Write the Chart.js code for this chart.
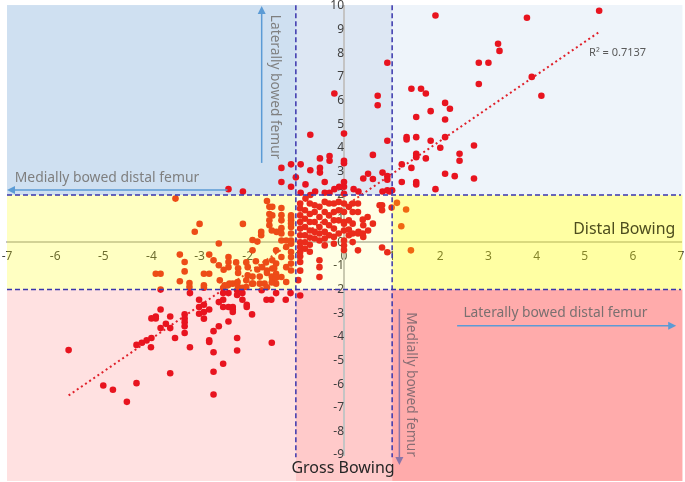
<!DOCTYPE html>
<html>
<head>
<meta charset="utf-8">
<script src="https://cdn.jsdelivr.net/npm/chart.js@4.4.0/dist/chart.umd.min.js"></script>
<style>
  html, body { margin: 0; padding: 0; background: #fff; }
  canvas { display: block; }
</style>
</head>
<body>
<canvas id="bowingChart" width="685" height="482"></canvas>
<script>
// ***** DATA *****
const xRange = [-7, 7];
const yRange = [-9, 10];
const xCuts = [-1, 1];
const yCuts = [-2, 2];

// points above the distal band (y > 2)
const upperPoints = [
  [1.9, 9.6], [3.8, 9.5], [5.3, 9.8], [3.2, 8.4], [3.23, 8.1], [2.8, 7.6], [3.0, 7.6], [0.9, 7.6],
  [2.8, 6.7], [3.9, 7.0], [4.1, 6.2], [1.4, 6.5], [1.6, 6.5], [1.7, 6.3], [0.7, 6.2], [0.7, 5.8],
  [1.8, 5.55], [2.1, 5.9], [2.2, 5.65], [1.5, 5.3], [2.1, 5.2], [0.0, 4.6], [1.3, 4.45], [1.3, 4.35],
  [1.5, 4.45], [2.1, 4.45], [0.9, 4.3], [1.8, 4.3], [2.0, 4.0], [2.7, 4.1], [0.6, 3.7], [1.5, 3.75],
  [1.5, 3.65], [1.5, 3.6], [1.7, 3.55], [2.4, 3.75], [2.4, 3.45], [0.0, 3.45], [0.0, 3.35], [1.2, 3.3],
  [1.4, 3.15], [0.8, 2.95], [0.5, 2.9], [0.4, 2.7], [0.6, 2.68], [0.9, 2.8], [0.9, 2.65], [2.1, 2.9],
  [2.3, 2.8], [2.7, 2.7], [1.2, 2.55], [1.5, 2.55], [1.5, 2.45], [1.9, 2.25], [0.0, 2.55], [0.0, 2.35],
  [0.2, 2.25], [0.3, 2.15], [0.8, 2.15], [0.9, 2.2], [0.95, 2.15], [1.0, 2.2], [0.0, 2.05], [-0.1, 2.35],
  [-0.2, 6.3], [-0.7, 4.55], [-0.5, 3.55], [-0.3, 3.65], [-0.3, 3.45], [-1.3, 3.15], [-1.1, 3.3], [-0.9, 3.3],
  [-0.7, 3.05], [-0.5, 3.15], [-0.5, 2.95], [-1.3, 2.55], [-1.1, 2.35], [-1.0, 2.75], [-0.8, 2.45], [-0.4, 2.55],
  [-0.6, 2.15], [-0.4, 2.1], [-0.3, 2.1], [-0.9, 2.1], [-0.7, 2.0], [-2.4, 2.25], [-2.1, 2.15], [-0.2, 2.25]
];

// points inside the distal band (-2 .. 2)
const bandPoints = [
  [-0.8, 1.85], [-3.5, 1.85], [-1.6, 1.75], [-3.0, 0.78], [-3.1, 0.45], [-2.1, 0.78], [-2.6, -0.05],
  [-1.55, 1.5], [-1.55, 1.2], [-1.55, 0.93], [-1.55, 0.72], [-1.5, 0.5], [-1.4, 0.44], [-1.3, 1.45],
  [-1.3, 1.15], [-1.3, 0.93], [-1.3, 0.6], [-1.3, 0.37], [-1.3, 0.08], [-1.1, 1.14], [-1.1, 0.93],
  [-1.1, 0.65], [-1.1, 0.37], [-1.1, 0.08], [-1.1, 1.05], [-1.1, 0.8], [-1.72, 0.44], [-1.72, 0.3],
  [-1.9, 0.1], [-1.8, 0.03], [-1.2, 0.08], [-1.1, -0.06], [-1.49, 1.5], [-1.49, 1.14],
  [-0.91, 1.64], [-0.91, 1.43], [-0.91, 1.14], [-0.91, 0.86], [-0.91, 0.58], [-0.91, 0.3], [-0.91, 0.0],
  [-0.91, -0.2], [-0.91, -0.41], [-0.91, -0.59], [-0.91, -0.83],
  [-0.81, 1.36], [-0.81, 1.0], [-0.81, 0.65], [-0.81, 0.3], [-0.81, 0.0], [-0.81, -0.27],
  [-0.71, 1.64], [-0.71, 1.2], [-0.71, 0.86], [-0.71, 0.5], [-0.71, 0.2], [-0.71, -0.1], [-0.71, -0.4],
  [-0.61, 1.57], [-0.61, 1.28], [-0.61, 0.86], [-0.61, 0.44], [-0.61, 0.16],
  [-0.51, 1.5], [-0.51, 1.07], [-0.51, 0.65], [-0.51, 0.37], [-0.51, 0.08], [-0.51, -0.76], [-0.51, -1.05], [-0.51, -1.47],
  [-0.4, 1.71], [-0.4, 1.28], [-0.4, 0.86], [-0.4, 0.44], [-0.4, 0.16], [-0.4, -0.13],
  [-0.31, 1.64], [-0.31, 1.14], [-0.31, 0.72], [-0.31, 0.3],
  [-0.21, 1.64], [-0.21, 1.28], [-0.21, 0.93], [-0.21, 0.58], [-0.21, 0.23], [-0.21, -0.06],
  [-0.11, 1.71], [-0.11, 1.36], [-0.11, 0.93], [-0.11, 0.37],
  [0.0, 1.64], [0.0, 1.28], [0.0, 0.86], [0.0, 0.5], [0.0, 0.08], [0.0, -0.14], [0.0, -0.33], [0.0, 0.79],
  [0.1, 1.5], [0.1, 0.93], [0.1, 0.54], [0.1, 0.3],
  [0.18, 1.64], [0.18, 1.28], [0.18, 0.79], [0.18, 0.37], [0.18, 0.01],
  [0.29, 1.64], [0.29, 1.28], [0.29, 0.37], [0.29, -0.34], [0.3, 0.44],
  [0.39, 0.96], [0.39, 0.37], [0.4, 0.72], [0.4, 0.23], [0.49, 1.07], [0.5, 0.5], [0.6, 0.79],
  [0.74, 1.57], [0.79, 1.57], [0.79, 1.36], [0.99, 1.47], [0.79, -0.22], [0.9, -0.42],
  [1.1, 1.67], [1.29, 1.39], [1.19, 0.68], [1.39, -0.34],
  [-1.2, -0.2], [-1.41, -0.34], [-1.3, -0.62], [-1.1, -0.41], [-1.1, -0.62], [-1.1, -0.9], [-1.1, -1.19],
  [-1.2, -1.05], [-1.41, -0.9], [-1.49, -0.76], [-1.49, -1.11], [-1.41, -1.33], [-1.3, -1.47], [-1.49, -1.54],
  [-1.2, -1.68], [-1.41, -1.75], [-0.91, -1.2], [-0.95, -1.6],
  [-3.41, -0.52], [-2.8, -0.52], [-2.71, -0.76], [-2.4, -0.62], [-2.4, -0.83], [-2.4, -1.05], [-2.6, -0.97],
  [-2.5, -1.16], [-2.24, -0.85], [-2.03, -0.85], [-1.83, -0.8], [-1.62, -0.85], [-1.9, -0.34],
  [-2.2, -1.1], [-2.0, -1.05], [-1.8, -1.15], [-1.7, -1.05], [-1.6, -1.2], [-1.45, -1.1],
  [-2.2, -1.3], [-2.0, -1.4], [-1.9, -1.45], [-1.75, -1.45], [-1.6, -1.3], [-1.5, -1.45],
  [-3.91, -1.33], [-3.81, -1.33], [-3.31, -1.23], [-3.31, -0.83], [-3.21, -1.72], [-3.21, -1.89], [-3.41, -1.65],
  [-2.91, -1.33], [-2.8, -1.33], [-2.58, -1.61], [-2.48, -1.82], [-2.38, -1.75], [-2.2, -1.89], [-2.03, -1.61],
  [-2.03, -1.89], [-1.89, -1.75], [-1.75, -1.75], [-1.65, -1.75], [-1.6, -1.9], [-1.5, -1.7], [-1.41, -1.5],
  [-2.91, -1.82], [-2.91, -1.92], [-2.51, -1.92], [-2.41, -1.82], [-2.31, -1.75], [-2.21, -1.68], [-2.11, -1.92],
  [-1.91, -1.75], [-3.81, -2.0]
];

// points below the distal band (y < -2)
const lowerPoints = [
  [-5.72, -4.56], [-5.0, -6.06], [-4.8, -6.24], [-4.51, -6.75], [-4.31, -5.96], [-4.31, -4.34], [-4.2, -4.25],
  [-4.1, -4.15], [-4.0, -4.05], [-4.01, -4.44], [-3.81, -2.84], [-3.91, -3.14], [-3.91, -3.22], [-4.0, -3.22],
  [-3.81, -3.63], [-3.7, -3.45], [-3.61, -3.14], [-3.61, -3.63], [-3.61, -5.54], [-3.51, -4.05], [-3.31, -3.05],
  [-3.31, -3.23], [-3.31, -3.38], [-3.31, -3.55], [-3.31, -3.84], [-3.2, -2.15], [-3.2, -4.44], [-3.01, -2.43],
  [-3.01, -2.74], [-3.01, -3.02], [-2.91, -2.95], [-2.91, -3.23], [-2.91, -2.64], [-2.8, -2.84], [-2.71, -3.76],
  [-2.8, -4.15], [-2.8, -4.22], [-2.71, -4.65], [-2.71, -5.48], [-2.71, -6.44], [-2.6, -3.55], [-2.6, -2.53],
  [-2.51, -2.15], [-2.51, -2.43], [-2.51, -2.74], [-2.51, -5.14], [-2.4, -2.15], [-2.4, -2.74], [-2.4, -3.35],
  [-2.31, -2.74], [-2.31, -2.84], [-2.31, -2.95], [-2.22, -2.03], [-2.22, -2.23], [-2.22, -4.05], [-2.22, -4.58],
  [-2.11, -2.15], [-2.11, -2.43], [-2.02, -2.64], [-2.02, -2.74], [-1.91, -3.05], [-1.71, -2.03], [-1.61, -2.43],
  [-1.51, -2.43], [-1.41, -2.15], [-1.5, -4.25], [-1.21, -2.43], [-1.11, -2.15], [-0.91, -2.25]
];

// linear trend
const trendX = [-5.72, 5.3];
const trendY = [-6.48, 8.9];
const rSquared = '0.7137';


// ***** HELPERS *****
const fontFamily = '"Noto Sans", "Open Sans", sans-serif';

function toXY(list) {
  return list.map(p => ({ x: p[0], y: p[1] }));
}

function fitFont(ctx, text, width) {
  ctx.font = '20px ' + fontFamily;
  let size = 20 * width / ctx.measureText(text).width;
  ctx.font = size.toFixed(1) + 'px ' + fontFamily;
}

function drawLabel(ctx, text, px, py, width, color, align, rotate) {
  ctx.save();
  fitFont(ctx, text, width);
  ctx.fillStyle = color;
  ctx.textBaseline = 'middle';
  ctx.translate(px, py);
  if (rotate) ctx.rotate(Math.PI / 2);
  ctx.textAlign = align;
  ctx.fillText(text, 0, 0);
  ctx.restore();
}

function drawArrow(ctx, x1, y1, x2, y2, color) {
  let ang = Math.atan2(y2 - y1, x2 - x1);
  ctx.save();
  ctx.strokeStyle = color;
  ctx.fillStyle = color;
  ctx.lineWidth = 1.5;
  ctx.beginPath();
  ctx.moveTo(x1, y1);
  ctx.lineTo(x2 - 7 * Math.cos(ang), y2 - 7 * Math.sin(ang));
  ctx.stroke();
  ctx.beginPath();
  ctx.moveTo(x2, y2);
  ctx.lineTo(x2 - 8 * Math.cos(ang) + 4 * Math.sin(ang), y2 - 8 * Math.sin(ang) - 4 * Math.cos(ang));
  ctx.lineTo(x2 - 8 * Math.cos(ang) - 4 * Math.sin(ang), y2 - 8 * Math.sin(ang) + 4 * Math.cos(ang));
  ctx.closePath();
  ctx.fill();
  ctx.restore();
}

// the centred axes should not shrink the plot area
function noAxisPadding(scale) {
  scale.paddingLeft = 0;
  scale.paddingRight = 0;
  scale.paddingTop = 0;
  scale.paddingBottom = 0;
}


// ***** ZONE PLUGIN *****
// outer edges of the shaded zones, in axis units
const zoneX = [-7, xCuts[0], xCuts[1], 7.03];
const zoneY = [10.04, yCuts[1], yCuts[0], -10.1];
const zoneFill = [
  ['#cfe0f1', '#dde7f3', '#eef4fa'],
  ['#ffffff', '#ffffff', '#ffffff'],
  ['#ffe1e1', '#ffcaca', '#ffabab']
];
const bandOverlay = ['rgba(255,255,0,0.24)', 'rgba(255,255,0,0.1)', 'rgba(255,255,0,0.36)'];

const zonePlugin = {
  id: 'zones',
  beforeDraw(chart) {
    const { ctx, scales: { x, y } } = chart;
    ctx.save();
    for (let r = 0; r < 3; r++) {
      for (let c = 0; c < 3; c++) {
        let x0 = x.getPixelForValue(zoneX[c]);
        let x1 = x.getPixelForValue(zoneX[c + 1]);
        let y0 = y.getPixelForValue(zoneY[r]);
        let y1 = y.getPixelForValue(zoneY[r + 1]);
        ctx.fillStyle = zoneFill[r][c];
        ctx.fillRect(x0, y0, x1 - x0, y1 - y0);
      }
    }
    ctx.restore();
  },
  afterDatasetsDraw(chart) {
    const { ctx, scales: { x, y } } = chart;
    ctx.save();
    // yellow distal band sits over the points
    let by0 = y.getPixelForValue(yCuts[1]);
    let by1 = y.getPixelForValue(yCuts[0]);
    for (let c = 0; c < 3; c++) {
      let x0 = x.getPixelForValue(zoneX[c]);
      let x1 = x.getPixelForValue(zoneX[c + 1]);
      ctx.fillStyle = bandOverlay[c];
      ctx.fillRect(x0, by0, x1 - x0, by1 - by0);
    }

    // dashed cut lines
    ctx.strokeStyle = '#3a36ad';
    ctx.lineWidth = 1.5;
    ctx.setLineDash([5, 3]);
    xCuts.forEach(v => {
      let px = x.getPixelForValue(v);
      ctx.beginPath();
      ctx.moveTo(px, y.getPixelForValue(10.03));
      ctx.lineTo(px, y.getPixelForValue(-9.1));
      ctx.stroke();
    });
    yCuts.forEach(v => {
      let py = y.getPixelForValue(v);
      ctx.beginPath();
      ctx.moveTo(x.getPixelForValue(-7), py);
      ctx.lineTo(x.getPixelForValue(7), py);
      ctx.stroke();
    });
    ctx.setLineDash([]);
    ctx.restore();

    // arrows
    drawArrow(ctx, x.getPixelForValue(-1.71), y.getPixelForValue(3.36), x.getPixelForValue(-1.71), y.getPixelForValue(10.0), '#5b9bd5');
    drawArrow(ctx, x.getPixelForValue(-2.42), y.getPixelForValue(2.21), x.getPixelForValue(-7.0), y.getPixelForValue(2.21), '#5b9bd5');
    drawArrow(ctx, x.getPixelForValue(2.35), y.getPixelForValue(-3.53), x.getPixelForValue(6.9), y.getPixelForValue(-3.53), '#5b9bd5');
    drawArrow(ctx, x.getPixelForValue(1.15), y.getPixelForValue(-2.82), x.getPixelForValue(1.15), y.getPixelForValue(-9.42), '#8a74a8');

    // annotations
    drawLabel(ctx, 'Laterally bowed femur', x.getPixelForValue(-1.43), y.getPixelForValue(6.57), 144, '#7f7f7f', 'center', true);
    drawLabel(ctx, 'Medially bowed distal femur', x.getPixelForValue(-6.84), y.getPixelForValue(2.72), 185, '#7f7f7f', 'left', false);
    drawLabel(ctx, 'Distal Bowing', x.getPixelForValue(6.88), y.getPixelForValue(0.56), 102, '#4d4d1e', 'right', false);
    drawLabel(ctx, 'Laterally bowed distal femur', x.getPixelForValue(2.48), y.getPixelForValue(-2.99), 184, '#7a7070', 'left', false);
    drawLabel(ctx, 'Medially bowed femur', x.getPixelForValue(1.39), y.getPixelForValue(-6.02), 145, '#8a6e74', 'center', true);
    drawLabel(ctx, 'Gross Bowing', x.getPixelForValue(-0.02), y.getPixelForValue(-9.55), 103, '#262626', 'center', false);
    drawLabel(ctx, 'R\u00b2 = ' + rSquared, x.getPixelForValue(5.09), y.getPixelForValue(8.03), 57, '#595959', 'left', false);
  }
};


// ***** CHART *****
const ctx = document.getElementById('bowingChart').getContext('2d');
const allPoints = upperPoints.concat(bandPoints, lowerPoints);

const tickStyle = {
  stepSize: 1,
  color: '#404040',
  autoSkip: false,
  maxRotation: 0,
  font: { size: 12, family: fontFamily }
};

new Chart(ctx, {
  type: 'scatter',
  data: {
    datasets: [
      {
        label: 'Bowing',
        data: toXY(allPoints),
        backgroundColor: '#e8141f',
        borderWidth: 0,
        pointRadius: 3.3
      },
      {
        type: 'line',
        label: 'Trend',
        data: trendX.map((v, i) => ({ x: v, y: trendY[i] })),
        borderColor: '#e0202a',
        borderWidth: 2,
        borderDash: [2, 3],
        pointRadius: 0,
        fill: false
      }
    ]
  },
  options: {
    responsive: false,
    animation: false,
    devicePixelRatio: 1,
    layout: { padding: { left: 7, right: 3, top: 6, bottom: 27 } },
    plugins: { legend: { display: false }, tooltip: { enabled: false } },
    scales: {
      x: {
        type: 'linear',
        min: xRange[0],
        max: xRange[1],
        position: { y: 0 },
        grid: { display: false, drawTicks: false },
        border: { color: '#c4c4c4', width: 2 },
        ticks: Object.assign({ padding: 7 }, tickStyle),
        afterFit: noAxisPadding
      },
      y: {
        type: 'linear',
        min: yRange[0],
        max: yRange[1],
        position: { x: 0 },
        grid: { display: false, drawTicks: false },
        border: { color: '#c4c4c4', width: 2 },
        ticks: Object.assign({ padding: 7 }, tickStyle),
        afterFit: noAxisPadding
      }
    }
  },
  plugins: [zonePlugin]
});
</script>
</body>
</html>
